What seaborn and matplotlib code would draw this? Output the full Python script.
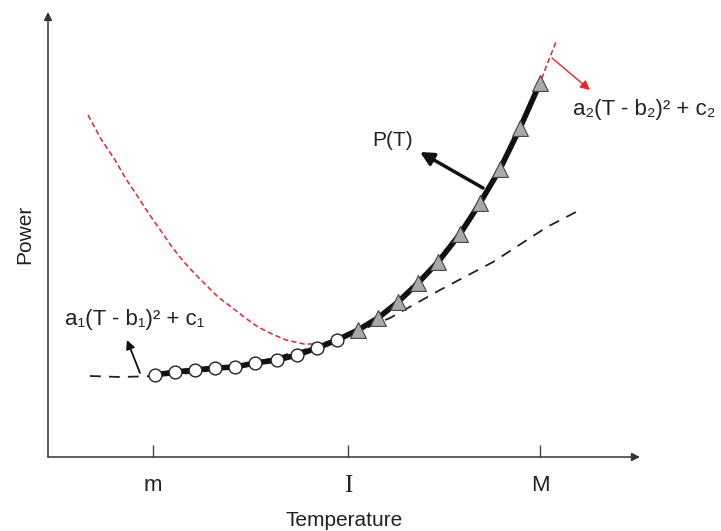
import matplotlib
matplotlib.use('Agg')
import matplotlib.pyplot as plt
import pandas as pd
import seaborn as sns

# schematic values (arbitrary units)
circ_T = [107, 127, 147, 167, 187, 207, 229, 249, 269, 289]
circ_P = [82, 85, 87, 89, 90, 94, 97, 102, 109, 117]

tri_T = [310, 330, 350, 370, 390, 412, 432, 452, 472, 492]
tri_P = [127, 139, 155, 174, 195, 223, 254, 288, 329, 374]

fit1_T = [42, 72, 112, 152, 202, 252, 292, 342, 392, 445, 499, 528]
fit1_P = [81, 80, 81, 85, 93, 106, 118, 139, 167, 195, 230, 245]

fit2_T = [40, 53, 67, 78, 90, 101, 113, 124, 136, 147, 159, 170, 182, 196, 210, 224,
          238, 256, 272, 292, 312, 352, 392, 432, 472, 492, 500, 508]
fit2_P = [342, 318, 297, 278, 260, 243, 226, 210, 195, 183, 171, 160, 151, 140, 130, 123,
          117, 113, 113, 119, 128, 157, 195, 254, 329, 374, 395, 415]

tick_pos = [105, 300, 492]
tick_lab = ['m', 'I', 'M']

sns.set_theme(style='white')
plt.rcParams['font.family'] = ['Liberation Sans', 'DejaVu Sans']

fig = plt.figure(figsize=(7.21, 5.31), dpi=100)
ax = fig.add_axes([48 / 721, 74 / 531, 592 / 721, 445 / 531])

pt = pd.DataFrame({'T': circ_T + tri_T, 'P': circ_P + tri_P})

# fitted quadratics
sns.lineplot(x=fit2_T, y=fit2_P, ax=ax, color='#e8242a', lw=1.1, zorder=1)
ax.lines[-1].set_dashes((3.5, 2))
sns.lineplot(x=fit1_T, y=fit1_P, ax=ax, color='#222222', lw=1.3, zorder=2)
ax.lines[-1].set_dashes((6, 4.5))

# P(T)
sns.lineplot(data=pt, x='T', y='P', ax=ax, color='#111111', lw=4, zorder=3)
sns.scatterplot(x=circ_T, y=circ_P, ax=ax, marker='o', s=85, color='white',
                edgecolor='#222222', linewidth=1, zorder=4)
sns.scatterplot(x=tri_T, y=tri_P, ax=ax, marker='^', s=130, color='#a9a9a9',
                edgecolor='#444444', linewidth=0.8, zorder=4)

ax.set_xlim(0, 592)
ax.set_ylim(0, 445)
for s in ax.spines.values():
    s.set_visible(False)

# axes with arrow heads
ax.annotate('', xy=(1, 0), xytext=(0, 0), xycoords='axes fraction',
            arrowprops=dict(arrowstyle='-|>', color='#333333', lw=1.1,
                            mutation_scale=12, shrinkA=0, shrinkB=0))
ax.annotate('', xy=(0, 1), xytext=(0, 0), xycoords='axes fraction',
            arrowprops=dict(arrowstyle='-|>', color='#333333', lw=1.1,
                            mutation_scale=12, shrinkA=0, shrinkB=0))

ax.set_xticks(tick_pos)
ax.set_xticklabels(tick_lab, fontsize=16)
ax.get_xticklabels()[1].set_family('Liberation Serif')
ax.get_xticklabels()[1].set_fontsize(18)
ax.set_yticks([])
ax.tick_params(axis='x', bottom=True, direction='in', length=9, width=1,
               color='#444444', pad=13, labelcolor='#222222')

ax.set_xlabel('Temperature', fontsize=15, color='#222222', labelpad=10)
ax.set_ylabel('Power', fontsize=15, color='#222222', labelpad=10)

# labels and arrows
ax.text(324, 317, 'P(T)', fontsize=15, color='#222222', va='center')
ax.annotate('', xy=(372, 305), xytext=(435, 269),
            arrowprops=dict(arrowstyle='-|>', color='#111111', lw=2.5,
                            mutation_scale=20, shrinkA=0, shrinkB=0))

ax.text(525, 347, 'a\u2082(T - b\u2082)\u00b2 + c\u2082', fontsize=16,
        color='#222222', va='center')
ax.annotate('', xy=(542, 367), xytext=(504, 399),
            arrowprops=dict(arrowstyle='-|>', color='#e8242a', lw=1,
                            mutation_scale=14, shrinkA=0, shrinkB=0))

ax.text(17, 137, 'a\u2081(T - b\u2081)\u00b2 + c\u2081', fontsize=16,
        color='#222222', va='center')
ax.annotate('', xy=(79, 117), xytext=(92, 84),
            arrowprops=dict(arrowstyle='-|>', color='#111111', lw=1.3,
                            mutation_scale=13, shrinkA=0, shrinkB=0))

fig.savefig('out.png', dpi=100)
